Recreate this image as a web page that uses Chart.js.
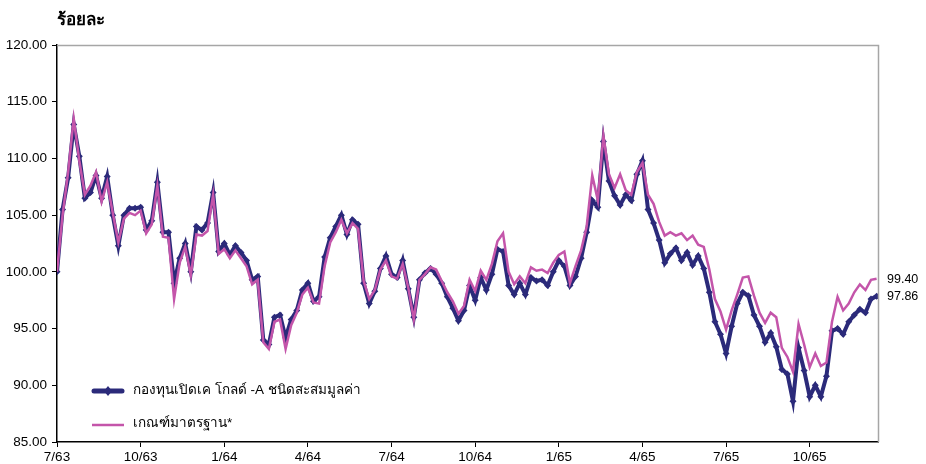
<!DOCTYPE html>
<html>
<head>
<meta charset="utf-8">
<script src="https://cdn.jsdelivr.net/npm/chart.js@4"></script>
<style>
  html, body { margin: 0; padding: 0; background: #fff; }
  canvas { display: block; }
</style>
</head>
<body>
<canvas id="chart" width="926" height="464"></canvas>
<script>
// Data, one point every 0.2 month starting 7/63
const monthStep = 0.2;
const tickLabels = ['7/63', '10/63', '1/64', '4/64', '7/64', '10/64', '1/65', '4/65', '7/65', '10/65'];
const seriesNames = ['กองทุนเปิดเค โกลด์ -A ชนิดสะสมมูลค่า', 'เกณฑ์มาตรฐาน*'];

const fundValues = [
  100.0, 105.5, 108.3, 113.0, 110.2, 106.5, 107.0, 108.5, 106.5, 108.4,
  105.0, 102.3, 105.0, 105.6, 105.6, 105.7, 103.7, 104.5, 107.9, 103.5,
  103.5, 99.0, 101.2, 102.5, 100.0, 104.0, 103.7, 104.3, 107.0, 101.8,
  102.5, 101.5, 102.3, 101.7, 101.0, 99.3, 99.6, 94.0, 93.6, 96.0,
  96.2, 94.2, 95.8, 96.6, 98.4, 99.0, 97.4, 97.8, 101.3, 103.0,
  104.0, 105.0, 103.3, 104.6, 104.2, 99.0, 97.2, 98.3, 100.3, 101.4,
  99.8, 99.5, 101.0, 98.5, 96.0, 99.3, 99.9, 100.3, 99.8, 99.0,
  97.8, 96.8, 95.7, 96.6, 98.8, 97.5, 99.5, 98.4, 99.8, 102.0,
  101.8, 98.8, 98.0, 99.0, 98.0, 99.5, 99.2, 99.3, 98.8, 100.0,
  101.0, 100.5, 98.8, 99.6, 101.2, 103.5, 106.3, 105.7, 111.5, 108.0,
  106.7, 105.9, 106.8, 106.3, 108.6, 109.8, 105.5, 104.3, 102.8, 100.8,
  101.6, 102.1, 101.0, 101.7, 100.6, 101.4, 100.3, 98.2, 95.6, 94.5,
  92.8, 95.2, 97.2, 98.2, 97.9, 96.2, 95.2, 93.8, 94.6, 93.4,
  91.4, 91.0, 88.6, 93.3, 91.3, 89.0, 90.0, 89.0, 90.8, 94.8,
  95.0, 94.5, 95.6, 96.2, 96.7, 96.4, 97.6, 97.86
];

const benchmarkValues = [
  100.0, 105.0, 108.8, 113.5, 109.8, 106.8, 107.6, 108.8, 106.2, 107.9,
  105.2, 102.6, 104.7, 105.2, 105.0, 105.4, 103.4, 104.2, 107.6, 103.1,
  103.0, 97.6, 100.8, 102.2, 99.7, 103.3, 103.2, 103.6, 106.8, 101.6,
  102.0, 101.2, 101.9, 101.2, 100.5, 98.9, 99.3, 93.8, 93.2, 95.6,
  95.8, 93.2, 95.3, 96.4, 98.0, 98.6, 97.3, 97.2, 100.5, 102.6,
  103.5, 104.6, 103.4, 104.3, 103.8, 99.2, 97.6, 98.4, 100.2, 101.0,
  99.6, 99.4, 100.7, 98.6, 95.8, 99.3, 99.8, 100.4, 100.2, 99.2,
  98.2, 97.4, 96.3, 97.0, 99.3, 98.3, 100.1, 99.3, 100.7, 102.7,
  103.4, 100.0, 98.9, 99.6, 99.0, 100.4, 100.1, 100.2, 99.9, 100.8,
  101.5, 101.8, 99.0, 100.5, 101.9, 104.0, 108.5, 106.3, 112.0, 108.6,
  107.4, 108.6, 107.2, 106.8, 108.8, 109.6, 106.8, 106.0, 104.4, 103.2,
  103.5, 103.2, 103.4, 102.8, 103.2, 102.4, 102.2, 100.2, 97.6, 96.5,
  94.9, 96.6, 98.0, 99.5, 99.6, 97.9, 96.4, 95.5, 96.4, 96.0,
  93.3, 92.5, 91.2, 95.4, 93.6, 91.6, 92.8, 91.7, 92.0, 95.6,
  97.8, 96.6, 97.2, 98.2, 98.9, 98.4, 99.3, 99.40
];

const navy = '#2b2a7a';
const pink = '#c455aa';

const toPoints = vals => vals.map((v, i) => ({ x: i * monthStep, y: v }));

// Title, legend inside the plot, end labels and the grey frame
const decorations = {
  id: 'decorations',
  afterDraw(chart) {
    const ctx = chart.ctx;
    const area = chart.chartArea;
    ctx.save();

    ctx.strokeStyle = '#a6a6a6';
    ctx.lineWidth = 1.5;
    ctx.beginPath();
    ctx.moveTo(area.left, area.top + 0.5);
    ctx.lineTo(area.right + 0.5, area.top + 0.5);
    ctx.lineTo(area.right + 0.5, area.bottom);
    ctx.stroke();

    ctx.fillStyle = '#000';
    ctx.font = 'bold 17px "Liberation Sans", Arial, sans-serif';
    ctx.textBaseline = 'alphabetic';
    ctx.fillText('ร้อยละ', 57, 25);

    // legend
    ctx.font = '13.5px "Liberation Sans", Arial, sans-serif';
    ctx.textBaseline = 'middle';
    ctx.strokeStyle = navy;
    ctx.lineWidth = 5;
    ctx.lineCap = 'round';
    ctx.beginPath();
    ctx.moveTo(94, 391);
    ctx.lineTo(122, 391);
    ctx.stroke();
    ctx.fillStyle = navy;
    ctx.beginPath();
    ctx.moveTo(108, 386);
    ctx.lineTo(112, 391);
    ctx.lineTo(108, 396);
    ctx.lineTo(104, 391);
    ctx.fill();
    ctx.fillStyle = '#000';
    ctx.fillText(seriesNames[0], 133, 390);

    ctx.strokeStyle = pink;
    ctx.lineWidth = 2.5;
    ctx.lineCap = 'butt';
    ctx.beginPath();
    ctx.moveTo(92, 425);
    ctx.lineTo(124, 425);
    ctx.stroke();
    ctx.fillText(seriesNames[1], 133, 423);

    // end values
    ctx.font = '12.5px "Liberation Sans", Arial, sans-serif';
    ctx.fillText(benchmarkValues[benchmarkValues.length - 1].toFixed(2), 887, 280);
    ctx.fillText(fundValues[fundValues.length - 1].toFixed(2), 887, 297);
    ctx.restore();
  }
};

new Chart(document.getElementById('chart').getContext('2d'), {
  type: 'line',
  data: {
    datasets: [
      {
        label: seriesNames[0],
        data: toPoints(fundValues),
        borderColor: navy,
        backgroundColor: navy,
        borderWidth: 4,
        pointStyle: 'rectRot',
        pointRadius: 3.5,
        pointBorderWidth: 0,
        tension: 0,
        order: 1
      },
      {
        label: seriesNames[1],
        data: toPoints(benchmarkValues),
        borderColor: pink,
        backgroundColor: pink,
        borderWidth: 2.5,
        pointRadius: 0,
        tension: 0,
        order: 0
      }
    ]
  },
  options: {
    responsive: false,
    animation: false,
    layout: { padding: { top: 45, right: 48, left: 0, bottom: 0 } },
    plugins: {
      legend: { display: false },
      tooltip: { enabled: false }
    },
    scales: {
      x: {
        type: 'linear',
        min: 0,
        max: 29.45,
        afterFit: s => { s.height = 22; },
        afterBuildTicks: s => {
          s.ticks = tickLabels.map((_, i) => ({ value: i * 3 }));
        },
        ticks: {
          color: '#000',
          padding: 2,
          maxRotation: 0,
          autoSkip: false,
          font: { family: '"Liberation Sans", Arial, sans-serif', size: 13.5 },
          callback: v => tickLabels[Math.round(v / 3)]
        },
        grid: { drawOnChartArea: false, color: '#000', tickLength: 5 },
        border: { color: '#000', width: 1.5 }
      },
      y: {
        min: 85,
        max: 120,
        afterFit: s => { s.width = 57; },
        ticks: {
          stepSize: 5,
          color: '#000',
          padding: 5,
          font: { family: '"Liberation Sans", Arial, sans-serif', size: 13.5 },
          callback: v => v.toFixed(2)
        },
        grid: { drawOnChartArea: false, color: '#000', tickLength: 5 },
        border: { color: '#000', width: 1.5 }
      }
    }
  },
  plugins: [decorations]
});
</script>
</body>
</html>
